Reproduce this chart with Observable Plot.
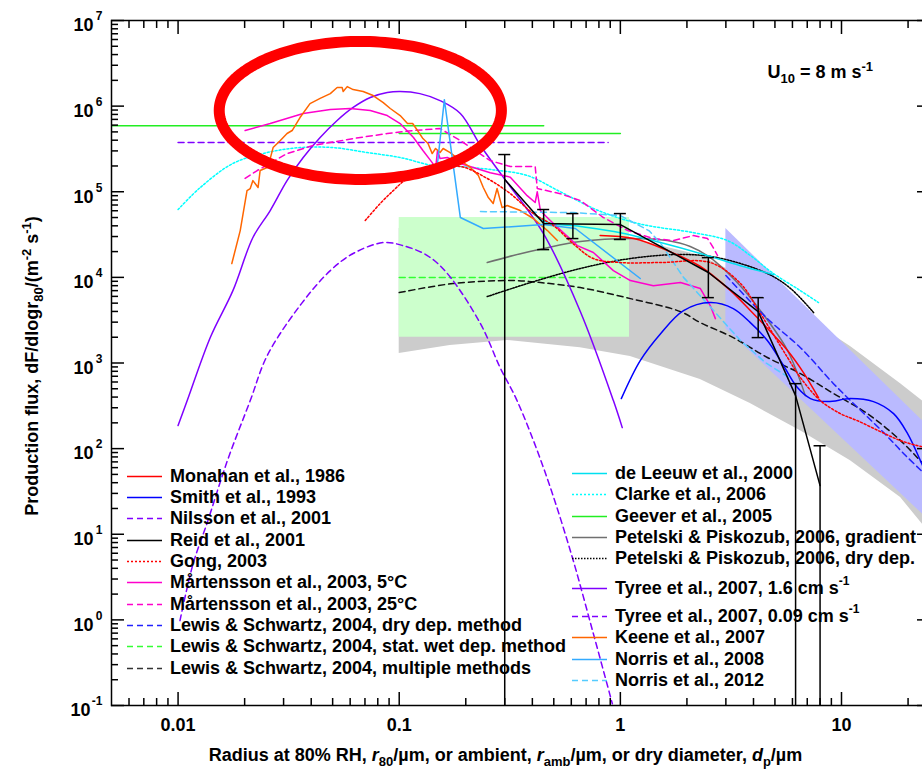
<!DOCTYPE html>
<html><head><meta charset="utf-8">
<script src="https://cdn.jsdelivr.net/npm/d3@7"></script>
<script src="https://cdn.jsdelivr.net/npm/@observablehq/plot@0.6"></script>
<style>
html,body{margin:0;padding:0;overflow:hidden;background:#fff;}
#wrap{position:relative;width:922px;height:771px;overflow:hidden;font-family:"Liberation Sans",Arial,sans-serif;}
#wrap svg{max-width:none;}
.row{position:absolute;height:21px;line-height:21px;font-weight:bold;font-size:18px;color:#000;white-space:nowrap;}
.row svg{position:absolute;top:0;}
.row span{position:absolute;top:0;}
.row sup{font-size:12px;line-height:0;position:relative;top:-2px;}
</style></head><body><div id="wrap"></div>
<script>
// ---------------- data (r in µm, flux dF/dlogr80 in m^-2 s^-1) ----------------
const monahan = [[0.81,3.08e4],[1.15,2.84e4],[1.63,2.06e4],[2.30,1.34e4],[3.15,7.0e3],[3.87,4.1e3],[4.77,2.33e3],[5.70,1.40e3],[6.73,773],[7.87,394]];
const smith = [[1.01,384],[1.23,1067],[1.52,2200],[1.93,4090],[2.55,5080],[3.24,4320],[3.87,2960],[4.62,1830],[5.47,933],[6.32,516],[7.24,384],[8.65,354],[10.98,384],[13.95,354],[17.2,256],[19.9,150],[23.3,63],[25,42]];
const nilsson = [[0.01,3.76e5],[0.88,3.76e5]];
const reid = [[0.3,1.39e5],[0.45,4.26e4],[0.61,4.2e4],[1.0,4.14e4],[2.5,1.14e4],[4.2,3.98e3],[6.2,416],[8.0,37]];
const reidErr = [{r:0.3,lo:null,hi:2.72e5},{r:0.45,lo:2.11e4,hi:6.2e4},{r:0.61,lo:2.84e4,hi:5.56e4},{r:1.0,lo:2.77e4,hi:5.56e4},{r:2.5,lo:5.8e3,hi:1.70e4},{r:4.2,lo:1.98e3,hi:5.8e3},{r:6.2,lo:null,hi:574},{r:8.0,lo:null,hi:108}];
const gong = [[0.0702,4.61e4],[0.082,7.28e4],[0.094,1.03e5],[0.106,1.35e5],[0.138,1.77e5],[0.189,1.97e5],[0.25,1.43e5],[0.318,9.5e4],[0.404,5.56e4],[0.498,4.03e4],[0.626,2.35e4],[0.755,1.66e4],[1.0,1.49e4],[1.52,1.49e4],[2.55,1.49e4],[3.49,8.5e3],[4.30,3.78e3],[5.70,1.16e3],[6.52,675],[8.03,364],[9.89,256],[11.8,212],[15.0,158],[18.5,124],[23.3,105],[25,103]];
const martensson5 = [[0.0201,5.19e5],[0.0261,6.26e5],[0.0368,8.2e5],[0.0488,9.12e5],[0.060,9.38e5],[0.074,8.89e5],[0.0883,7.76e5],[0.101,6.26e5],[0.116,4.30e5],[0.128,3.03e5],[0.141,2.19e5],[0.146,1.87e5],[0.149,3.03e5],[0.153,2.44e5],[0.165,2.51e5],[0.189,2.14e5],[0.258,1.67e5],[0.318,1.48e5],[0.379,9.0e4],[0.412,7.5e4],[0.421,1.0e5],[0.435,6.0e4],[0.482,4.61e4],[0.639,2.35e4],[0.755,1.95e4],[0.93,1.20e4],[1.11,9.18e3],[1.41,8.0e3],[1.87,8.7e3],[2.30,7.4e3],[2.55,4.69e3],[2.69,3.3e3]];
const martensson25 = [[0.0201,1.43e5],[0.0228,1.77e5],[0.0311,2.79e5],[0.0408,3.47e5],[0.0619,4.18e5],[0.0883,4.79e5],[0.116,5.19e5],[0.153,5.47e5],[0.189,3.96e5],[0.258,2.31e5],[0.318,1.97e5],[0.412,1.97e5],[0.421,1.09e5],[0.535,9.5e4],[0.659,7.9e4],[0.838,5.0e4],[1.08,3.52e4],[1.41,2.84e4],[1.74,2.69e4],[2.14,3.08e4],[2.48,2.84e4],[2.63,2.23e4],[2.75,1.80e4]];
const lsDry = [[3.0,1.05e4],[4.62,3.3e3],[6.52,1.51e3],[9.2,574],[10.98,364],[15.5,154],[19.5,83],[25,44.7]];
const lsWet = [[0.1,1e4],[1.0,1e4]];
const lsMulti = [[0.1,6.64e3],[0.175,8.47e3],[0.328,9.18e3],[0.435,8.69e3],[0.659,7.6e3],[1.11,5.65e3],[1.87,3.98e3],[2.30,2.96e3],[3.24,1.98e3],[4.62,1.16e3],[6.52,752],[9.2,440],[13.1,256],[18.5,124],[25,55]];
const grayR  = [0.1,0.17,0.309,0.659,1.11,2.30,3.87,6.52,10.98,18.5,25];
const grayHi = [3.72e4,3.52e4,3.33e4,3.0e4,2.84e4,1.80e4,9.18e3,3.78e3,1.56e3,574,310];
const grayLo = [1.29e3,1.60e3,1.83e3,1.51e3,1.19e3,640,336,162,72,26.8,10.4];
const lavR = [3.0,25], lavHi = [3.72e4,176], lavLo = [2.52e3,14.4];
const greenBox = [{r1:0.1,r2:1.1,lo:2e3,hi:5e4}];
const deLeeuw = [[0.404,5.56e4],[0.468,4.37e4],[0.659,3.93e4],[1.0,3.33e4],[1.52,2.55e4],[2.30,1.90e4],[3.49,1.37e4],[4.92,1.08e4]];
const clarke = [[0.01,6.2e4],[0.0126,1.12e5],[0.0177,2.14e5],[0.0253,2.87e5],[0.0356,3.28e5],[0.0502,3.28e5],[0.0717,2.87e5],[0.101,2.51e5],[0.143,2.02e5],[0.189,1.97e5],[0.266,1.80e5],[0.379,1.55e5],[0.535,1.0e5],[0.80,6.0e4],[1.23,4.2e4],[2.14,3.33e4],[3.05,2.69e4],[3.87,1.80e4],[4.92,1.11e4],[6.52,7.0e3],[7.87,5.08e3]];
const geever1 = [[0.005,5.9e5],[0.45,5.9e5]];
const geever2 = [[0.1,4.8e5],[1.0,4.8e5]];
const petelskiGrad = [[0.25,1.49e4],[0.328,1.80e4],[0.449,2.17e4],[0.659,2.62e4],[1.11,2.84e4],[1.63,2.69e4],[2.07,2.29e4],[2.55,1.70e4],[3.31,9.18e3],[4.30,4.09e3],[5.70,1.40e3],[6.86,416]];
const petelskiDry = [[0.25,5.97e3],[0.392,8.69e3],[0.659,1.27e4],[1.11,1.66e4],[1.87,1.85e4],[2.75,1.70e4],[4.62,1.11e4],[5.89,7.4e3],[7.48,3.88e3]];
const tyree16 = [[0.01,186],[0.011,364],[0.014,2.0e3],[0.0177,7.0e3],[0.0218,2.92e4],[0.0261,6.03e4],[0.0311,1.35e5],[0.0368,2.51e5],[0.0439,4.30e5],[0.0524,6.79e5],[0.0619,9.64e5],[0.074,1.26e6],[0.0883,1.44e6],[0.101,1.48e6],[0.124,1.40e6],[0.153,1.16e6],[0.189,8.2e5],[0.233,3.47e5],[0.296,1.47e5],[0.449,3.25e4],[0.659,4.0e3],[0.93,364],[1.02,176]];
const tyree009 = [[0.0102,0.98],[0.0117,4.54],[0.0135,13.3],[0.0167,72],[0.0212,364],[0.0253,1.22e3],[0.0356,4.69e3],[0.0488,1.20e4],[0.0619,1.90e4],[0.0847,2.55e4],[0.104,2.35e4],[0.134,1.80e4],[0.165,1.11e4],[0.233,2.88e3],[0.286,883],[0.341,364],[0.449,60],[0.594,6.43],[0.755,0.69],[0.92,0.105]];
const keene = [[0.0175,1.45e4],[0.0191,3.52e4],[0.0205,1.03e5],[0.0212,1.09e5],[0.0218,1.35e5],[0.0230,1.12e5],[0.0235,1.77e5],[0.0253,1.92e5],[0.0261,2.44e5],[0.0269,3.28e5],[0.0290,3.96e5],[0.0311,4.79e5],[0.0328,5.19e5],[0.0356,7.36e5],[0.0395,1.07e6],[0.0439,1.23e6],[0.0488,1.40e6],[0.0524,1.65e6],[0.0552,1.65e6],[0.0558,1.48e6],[0.0582,1.69e6],[0.0619,1.56e6],[0.0687,1.48e6],[0.0762,1.33e6],[0.0847,1.10e6],[0.0911,9.38e5],[0.101,7.76e5],[0.109,6.26e5],[0.115,6.26e5],[0.121,5.19e5],[0.128,4.18e5],[0.135,3.66e5],[0.141,2.79e5],[0.146,3.20e5],[0.153,2.87e5],[0.158,3.20e5],[0.170,2.87e5],[0.189,2.31e5],[0.210,1.92e5],[0.228,1.55e5],[0.240,1.12e5],[0.253,8.55e4],[0.266,7.28e4],[0.277,1.09e5],[0.292,6.53e4],[0.308,6.90e4],[0.353,6.03e4],[0.404,4.87e4],[0.468,3.52e4],[0.519,2.69e4]];
const norris2008 = [[0.149,2.14e5],[0.160,1.19e6],[0.189,5.0e4],[0.240,3.72e4],[0.449,4.14e4],[0.626,3.72e4],[1.23,9.7e3]];
const norris2012 = [[0.233,5.87e4],[0.613,5.71e4],[1.0,5.27e4],[1.35,3.5e4],[1.52,2.5e4],[1.93,1.0e4],[2.64,4.1e3],[3.49,1.83e3],[4.53,1.01e3],[5.88,658]];

// annotation ellipse: centre (r, F) and half-widths in decades
const ovalCentre = [0.0667, 8.9e5], ovalHalfDecades = [0.638, 0.806];

// ---------------- axes ----------------
const xDomain = [0.005, 25], yDomain = [0.1, 1e7];
const xMajor = [0.01, 0.1, 1, 10];
const yMajor = [0.1, 1, 10, 100, 1e3, 1e4, 1e5, 1e6, 1e7];
const xMinor = [], yMinor = [];
for (let e = -3; e <= 1; e++) for (let m = 2; m <= 9; m++) { const v = m * 10 ** e; if (v > xDomain[0] * 1.001 && v < xDomain[1]) xMinor.push(v); }
for (let e = -1; e <= 6; e++) for (let m = 2; m <= 9; m++) yMinor.push(m * 10 ** e);

// ---------------- legend ----------------
const legendLeft = [
  {label:"Monahan et al., 1986", color:"#ff0000", dash:null},
  {label:"Smith et al., 1993", color:"#0000ff", dash:null},
  {label:"Nilsson et al., 2001", color:"#7f00ff", dash:"6,4"},
  {label:"Reid et al., 2001", color:"#000000", dash:null},
  {label:"Gong, 2003", color:"#ff0000", dash:"2,2"},
  {label:"Mårtensson et al., 2003, 5°C", color:"#ff00cc", dash:null},
  {label:"Mårtensson et al., 2003, 25°C", color:"#ff00cc", dash:"6,4"},
  {label:"Lewis & Schwartz, 2004, dry dep. method", color:"#2020ff", dash:"6,4"},
  {label:"Lewis & Schwartz, 2004, stat. wet dep. method", color:"#33ff33", dash:"6,4"},
  {label:"Lewis & Schwartz, 2004, multiple methods", color:"#333333", dash:"6,4"}
];
const legendRight = [
  {label:"de Leeuw et al., 2000", color:"#00e0f0", dash:null},
  {label:"Clarke et al., 2006", color:"#00ffff", dash:"2,2"},
  {label:"Geever et al., 2005", color:"#22ee22", dash:null},
  {label:"Petelski & Piskozub, 2006, gradient", color:"#707070", dash:null},
  {label:"Petelski & Piskozub, 2006, dry dep.", color:"#000000", dash:"1.5,1.5"},
  {label:"Tyree et al., 2007, 1.6 cm s", sup:"-1", color:"#7f00ff", dash:null},
  {label:"Tyree et al., 2007, 0.09 cm s", sup:"-1", color:"#7f00ff", dash:"6,4"},
  {label:"Keene et al., 2007", color:"#ff6600", dash:null},
  {label:"Norris et al., 2008", color:"#33aaff", dash:null},
  {label:"Norris et al., 2012", color:"#55ccff", dash:"6,4"}
];

// ---------------- build ----------------
function L(data, color, dash, curve = "catmull-rom", width = 1.5) {
  return Plot.line(data, {x: d => d[0], y: d => d[1], stroke: color, strokeWidth: width, strokeDasharray: dash ?? undefined, curve, clip: true});
}
const grayBand = grayR.map((r, i) => ({r, lo: grayLo[i], hi: grayHi[i]}));
const lavBand = lavR.map((r, i) => ({r, lo: lavLo[i], hi: lavHi[i]}));
const oval = d3.range(0, 362, 2).map(a => {
  const t = a * Math.PI / 180;
  return [ovalCentre[0] * 10 ** (ovalHalfDecades[0] * Math.cos(t)), ovalCentre[1] * 10 ** (ovalHalfDecades[1] * Math.sin(t))];
});
const T = {fontSize: 18, fontWeight: "bold"};
const KEY_X = "@@xtitle", KEY_Y = "@@ytitle", KEY_U = "@@u10";

const chart = Plot.plot({
  width: 930, height: 771,
  marginLeft: 111, marginRight: 1, marginTop: 20, marginBottom: 66,
  style: {fontFamily: "'Liberation Sans', Arial, sans-serif", background: "white", color: "black"},
  x: {type: "log", domain: xDomain, label: null},
  y: {type: "log", domain: yDomain, label: null},
  marks: [
    Plot.areaY(grayBand, {x: "r", y1: "lo", y2: "hi", fill: "#cccccc"}),
    Plot.rect(greenBox, {x1: "r1", x2: "r2", y1: "lo", y2: "hi", fill: "#ccffcc"}),
    Plot.areaY(lavBand, {x: "r", y1: "lo", y2: "hi", fill: "#babaff"}),
    L(geever1, "#22ee22", null, "linear"),
    L(geever2, "#22ee22", null, "linear"),
    L(nilsson, "#7f00ff", "6,4", "linear"),
    L(lsWet, "#33ff33", "6,4", "linear"),
    L(lsMulti, "#111111", "6,4"),
    L(petelskiDry, "#000000", "1.5,1.5"),
    L(petelskiGrad, "#707070", null),
    L(clarke, "#00ffff", "2,2"),
    L(deLeeuw, "#00e0f0", null),
    L(tyree009, "#7f00ff", "6,4"),
    L(tyree16, "#7f00ff", null),
    L(martensson25, "#ff00cc", "6,4", "linear"),
    L(martensson5, "#ff00cc", null, "linear"),
    L(keene, "#ff6600", null, "linear"),
    L(norris2012, "#55ccff", "6,4", "linear"),
    L(norris2008, "#33aaff", null, "linear"),
    L(lsDry, "#2020ff", "6,4"),
    L(smith, "#0000ff", null),
    L(gong, "#ff0000", "2,2"),
    L(monahan, "#ff0000", null),
    L(reid, "#000000", null, "linear"),
    Plot.ruleX(reidErr, {x: "r", y1: d => d.lo ?? yDomain[0], y2: "hi", stroke: "black", strokeWidth: 1.5}),
    Plot.ruleY(reidErr, {y: "hi", x1: "r", x2: "r", insetLeft: -6, insetRight: -6, stroke: "black", strokeWidth: 1.5}),
    Plot.ruleY(reidErr.filter(d => d.lo != null), {y: "lo", x1: "r", x2: "r", insetLeft: -6, insetRight: -6, stroke: "black", strokeWidth: 1.5}),
    Plot.line(oval, {x: d => d[0], y: d => d[1], stroke: "#ff0000", strokeWidth: 11}),
    Plot.frame({stroke: "black", strokeWidth: 1.5}),
    // inward ticks
    Plot.axisX({ticks: xMajor, anchor: "bottom", tickSize: -13, tickFormat: () => "", strokeWidth: 1.5, label: null}),
    Plot.axisX({ticks: xMinor, anchor: "bottom", tickSize: -7, tickFormat: () => "", strokeWidth: 1.5, label: null}),
    Plot.axisX({ticks: xMajor, anchor: "top", tickSize: -13, tickFormat: () => "", strokeWidth: 1.5, label: null}),
    Plot.axisX({ticks: xMinor, anchor: "top", tickSize: -7, tickFormat: () => "", strokeWidth: 1.5, label: null}),
    Plot.axisY({ticks: yMajor, anchor: "left", tickSize: -13, tickFormat: () => "", strokeWidth: 1.5, label: null}),
    Plot.axisY({ticks: yMinor, anchor: "left", tickSize: -7, tickFormat: () => "", strokeWidth: 1.5, label: null}),
    Plot.axisY({ticks: yMajor, anchor: "right", tickSize: -13, tickFormat: () => "", strokeWidth: 1.5, label: null}),
    Plot.axisY({ticks: yMinor, anchor: "right", tickSize: -7, tickFormat: () => "", strokeWidth: 1.5, label: null}),
    // tick labels
    Plot.axisX({ticks: xMajor, anchor: "bottom", tickSize: 0, tickPadding: 13, tickFormat: d => String(d), label: null, ...T}),
    Plot.axisY({ticks: yMajor.filter(d => d >= 1), anchor: "left", tickSize: 0, tickPadding: 18, tickFormat: () => "10", dy: 5, label: null, ...T}),
    Plot.axisY({ticks: [0.1], anchor: "left", tickSize: 0, tickPadding: 21, tickFormat: () => "10", dy: 5, label: null, ...T}),
    Plot.axisY({ticks: yMajor, anchor: "left", tickSize: 0, tickPadding: 9, textAnchor: "end", tickFormat: d => String(Math.round(Math.log10(d))), dy: -4, label: null, fontSize: 12, fontWeight: "bold"}),
    // titles (rich text filled in below)
    Plot.text([KEY_X], {frameAnchor: "bottom", textAnchor: "middle", dx: -15, dy: 55, ...T}),
    Plot.text([KEY_Y], {frameAnchor: "left", textAnchor: "middle", rotate: -90, dx: -79, dy: 3, ...T}),
    Plot.text([KEY_U], {frameAnchor: "top-left", textAnchor: "start", dx: 656, dy: 45, ...T})
  ]
});

const wrap = document.getElementById("wrap");
wrap.appendChild(chart);

function rich(key, parts) {
  const t = d3.select(chart).selectAll("text").filter(function () { return this.textContent === key; });
  t.text(null);
  let shift = 0;
  for (const p of parts) {
    const target = p.k === "sub" ? 5 : p.k === "sup" ? -7 : 0;
    const ts = t.append("tspan").text(p.s).attr("dy", target - shift);
    shift = target;
    if (p.k) ts.attr("font-size", 13);
    if (p.i) ts.attr("font-style", "italic");
  }
}
rich(KEY_X, [{s:"Radius at 80% RH, "},{s:"r",i:1},{s:"80",k:"sub"},{s:"/µm, or ambient, "},{s:"r",i:1},{s:"amb",k:"sub"},{s:"/µm, or dry diameter, "},{s:"d",i:1},{s:"p",k:"sub"},{s:"/µm"}]);
rich(KEY_Y, [{s:"Production flux, dF/dlogr"},{s:"80",k:"sub"},{s:"/(m"},{s:"-2",k:"sup"},{s:" s"},{s:"-1",k:"sup"},{s:")"}]);
rich(KEY_U, [{s:"U"},{s:"10",k:"sub"},{s:" = 8 m s"},{s:"-1",k:"sup"}]);

// legend overlay
function legendBlock(items, lineX, textX, centres) {
  items.forEach((it, i) => {
    const row = document.createElement("div");
    row.className = "row";
    row.style.left = "0px";
    row.style.top = (centres[i] - 10.5) + "px";
    row.style.width = "922px";
    const sw = d3.create("svg").attr("width", 35).attr("height", 21).style("left", lineX + "px");
    sw.append("line").attr("x1", 0).attr("x2", 35).attr("y1", 10.5).attr("y2", 10.5)
      .attr("stroke", it.color).attr("stroke-width", 1.5).attr("stroke-dasharray", it.dash);
    row.appendChild(sw.node());
    const sp = document.createElement("span");
    sp.style.left = textX + "px";
    sp.textContent = it.label;
    if (it.sup) { const s = document.createElement("sup"); s.textContent = it.sup; sp.appendChild(s); }
    row.appendChild(sp);
    wrap.appendChild(row);
  });
}
legendBlock(legendLeft, 127, 170, legendLeft.map((d, i) => 476 + i * 21.35));
legendBlock(legendRight, 572, 615, [473, 494.5, 516, 537, 558, 588, 616, 637, 659, 680]);
</script></body></html>
